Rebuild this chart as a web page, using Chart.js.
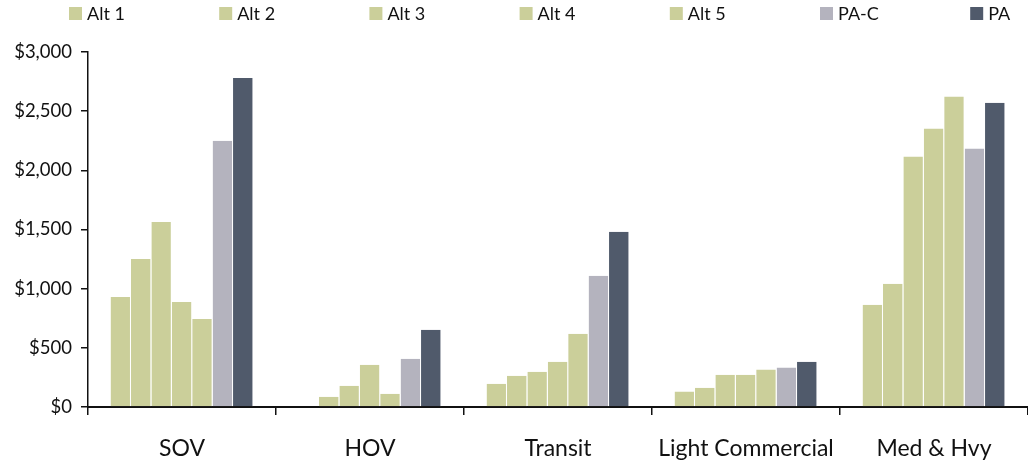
<!DOCTYPE html>
<html>
<head>
<meta charset="utf-8">
<title>Costs by vehicle class</title>
<script src="https://cdn.jsdelivr.net/npm/chart.js@4.4.1/dist/chart.umd.min.js"></script>
<style>
  html, body { margin: 0; padding: 0; background: #fff; }
  #wrap { width: 1028px; height: 460px; position: relative; }
</style>
</head>
<body>
<div id="wrap"><canvas id="c"></canvas></div>
<script>
// Vehicle classes on the x axis
const categories = ['SOV', 'HOV', 'Transit', 'Light Commercial', 'Med & Hvy'];

// Values per alternative, one entry per vehicle class
const alt1 = [930, 0, 197, 130, 865];
const alt2 = [1251, 87, 265, 163, 1042];
const alt3 = [1564, 180, 298, 273, 2116];
const alt4 = [888, 358, 383, 273, 2353];
const alt5 = [744, 113, 620, 316, 2623];
const paC  = [2249, 408, 1110, 333, 2184];
const pa   = [2781, 653, 1482, 383, 2572];

const seriesNames = ['Alt 1', 'Alt 2', 'Alt 3', 'Alt 4', 'Alt 5', 'PA-C', 'PA'];
const seriesValues = [alt1, alt2, alt3, alt4, alt5, paC, pa];

// y axis
const yMin = 0, yMax = 3000, yStep = 500;

const GREEN = '#CBCF9A', LILAC = '#B4B3BE', SLATE = '#505A6B';
const seriesColors = [GREEN, GREEN, GREEN, GREEN, GREEN, LILAC, SLATE];

Chart.defaults.font.family = 'Lato, "Open Sans", sans-serif';
Chart.defaults.color = '#111';

// Legend row across the top, items spaced evenly
const topLegend = {
  id: 'topLegend',
  afterDraw(chart) {
    const ctx = chart.ctx;
    ctx.save();
    ctx.font = '18px Lato, "Open Sans", sans-serif';
    ctx.textBaseline = 'middle';
    ctx.textAlign = 'left';
    chart.data.datasets.forEach((ds, i) => {
      const x = 69 + i * 150.2;
      ctx.fillStyle = ds.backgroundColor;
      ctx.fillRect(x, 7, 13, 13);
      ctx.fillStyle = '#111';
      ctx.fillText(ds.label, x + 18, 14);
    });
    ctx.restore();
  }
};

new Chart(document.getElementById('c'), {
  type: 'bar',
  data: {
    labels: categories,
    datasets: seriesNames.map((name, i) => ({
      label: name,
      data: seriesValues[i],
      backgroundColor: seriesColors[i],
      borderColor: '#ffffff',
      borderWidth: { left: 0, right: 1, top: 0, bottom: 0 },
      borderSkipped: false,
      categoryPercentage: 0.76,
      barPercentage: 1.0
    }))
  },
  options: {
    responsive: true,
    maintainAspectRatio: false,
    animation: false,
    layout: { padding: { top: 52, left: 0, right: 0, bottom: 0 } },
    plugins: {
      legend: { display: false },
      tooltip: { enabled: false }
    },
    scales: {
      x: {
        grid: {
          display: true,
          offset: true,
          drawOnChartArea: false,
          drawTicks: true,
          tickLength: 8,
          color: '#111',
          lineWidth: 1.5
        },
        border: { display: true, color: '#111', width: 2 },
        ticks: {
          font: { size: 23 },
          color: '#111',
          padding: 20,
          maxRotation: 0,
          autoSkip: false
        },
        afterFit(scale) { scale.height = 53; }
      },
      y: {
        min: yMin,
        max: yMax,
        grid: {
          display: true,
          drawOnChartArea: false,
          drawTicks: true,
          tickLength: 7,
          color: '#111',
          lineWidth: 1.5
        },
        border: { display: true, color: '#111', width: 1.5 },
        ticks: {
          stepSize: yStep,
          font: { size: 18.5 },
          color: '#111',
          padding: 9,
          callback: v => '$' + v.toLocaleString('en-US')
        },
        afterFit(scale) { scale.width = 88; }
      }
    }
  },
  plugins: [topLegend]
});
</script>
</body>
</html>
